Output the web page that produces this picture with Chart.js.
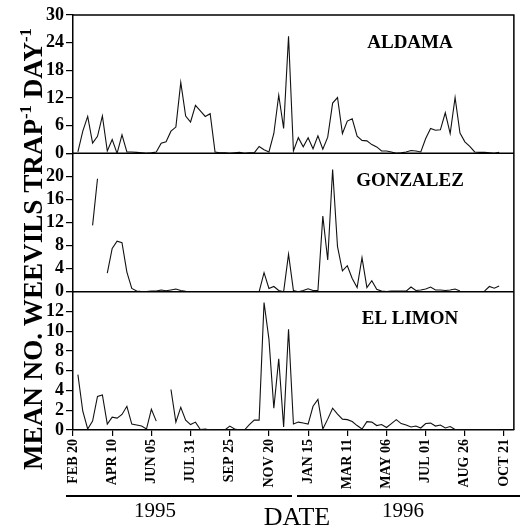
<!DOCTYPE html>
<html><head><meta charset="utf-8">
<script src="https://cdn.jsdelivr.net/npm/chart.js@4/dist/chart.umd.min.js"></script>
<style>html,body{margin:0;padding:0;background:#fff;overflow:hidden}</style>
</head><body>
<canvas id="c" width="524" height="527"></canvas>
<script>
// Week index of each x tick (8-week spacing) and its label
const xTickWeeks = [0, 8, 16, 24, 32, 40, 48, 56, 64, 72, 80, 88];
const xTickLabels = ['FEB 20','APR 10','JUN 05','JUL 31','SEP 25','NOV 20','JAN 15','MAR 11','MAY 06','JUL 01','AUG 26','OCT 21'];
const yearLabels = ['1995', '1996'];
const siteNames = ['ALDAMA', 'GONZALEZ', 'EL LIMON'];

// Weekly means, index = week number from FEB 20 1995 (null = no sample)
const aldama = [null,0.3,4.8,8.0,2.2,3.7,8.1,0.5,3.0,0,4.0,0.3,0.3,0.2,0.1,0,0.1,0.3,2.2,2.5,
  4.8,5.7,15.4,8.1,6.8,10.4,9.2,8.0,8.6,0.3,0.1,0.1,0,0.1,0.2,0,0.1,0.1,1.5,0.8,
  0.3,4.3,12.6,5.4,25.4,0.5,3.4,1.4,3.4,1.0,3.8,0.9,3.5,10.9,12.1,4.3,7.0,7.5,3.7,2.8,
  2.7,1.9,1.4,0.5,0.5,0.3,0,0.1,0.3,0.6,0.5,0.3,3.2,5.4,5.0,5.1,8.8,4.3,12.1,4.4,
  2.5,1.5,0.3,0.2,0.2,0.1,0,0.2];
const gonzalez = [null,null,null,null,11.5,19.6,null,3.2,7.5,8.75,8.5,3.4,0.55,0.1,0,0,0.1,0.1,0.3,0.15,
  0.3,0.45,0.2,0.05,0,0,0,0,0,0,0,0,0,0,0,0,0,0,0,3.3,
  0.55,0.9,0.2,0,6.5,0.2,0,0.2,0.5,0.2,0.2,13.1,5.5,21.2,7.8,3.6,4.5,2.3,0.7,5.9,
  0.7,1.9,0.4,0.1,0,0.1,0.1,0.1,0.1,0.8,0.2,0.3,0.45,0.8,0.3,0.3,0.2,0.3,0.45,0.1,
  null,null,null,null,0.1,0.9,0.6,1.0];
const limon = [null,5.6,1.9,0.1,0.9,3.4,3.55,0.6,1.3,1.2,1.57,2.4,0.6,0.5,0.4,0.1,2.1,0.9,null,null,
  4.1,0.8,2.3,1.0,0.55,0.8,0.05,0.1,0,0,0,0,0.4,0.1,0,0,0.55,1.0,1.0,12.9,
  9.2,2.2,7.2,0.3,10.2,0.6,0.8,0.7,0.6,2.4,3.1,0.1,1.1,2.2,1.6,1.1,1.05,0.85,0.45,0.1,
  0.85,0.8,0.45,0.55,0.25,0.65,1.05,0.65,0.5,0.3,0.4,0.2,0.65,0.7,0.4,0.5,0.2,0.35,0.05,0,
  0,0,0,0,0,0,0,0];

const SERIF = '"Liberation Serif", "Times New Roman", serif';
const toXY = arr => arr.map((v, i) => ({x: i, y: v}));

function yAxis(max, step, hideTop) {
  return {
    type: 'linear', position: 'left', stack: 'panels', stackWeight: 1,
    min: 0, max: max,
    afterFit: s => { s.width = 73; },
    border: {display: true, color: '#000', width: 1.5},
    grid: {display: true, drawOnChartArea: false, drawTicks: true, tickLength: 7, color: '#000', lineWidth: 1.2},
    ticks: {
      stepSize: step, autoSkip: false, padding: 2, color: '#000',
      font: {family: SERIF, size: 18, weight: 'bold'},
      callback: v => (hideTop && v === max) ? '' : String(v)
    }
  };
}

const decor = {
  id: 'decor',
  afterDraw(chart) {
    const ctx = chart.ctx, a = chart.chartArea;
    const sA = chart.scales.yA, sG = chart.scales.yG, sL = chart.scales.yL;
    ctx.save();
    ctx.strokeStyle = '#000'; ctx.lineWidth = 1.5;
    ctx.beginPath();
    ctx.moveTo(a.left, a.top); ctx.lineTo(a.right, a.top); ctx.lineTo(a.right, a.bottom);
    ctx.moveTo(a.left, sA.bottom); ctx.lineTo(a.right, sA.bottom);
    ctx.moveTo(a.left, sG.bottom); ctx.lineTo(a.right, sG.bottom);
    ctx.stroke();

    ctx.fillStyle = '#000';
    ctx.font = 'bold 19px ' + SERIF;
    ctx.textAlign = 'center'; ctx.textBaseline = 'middle';
    ctx.fillText(siteNames[0], 410, sA.top + 28);
    ctx.fillText(siteNames[1], 410, sG.top + 28);
    ctx.fillText(siteNames[2], 410, sL.top + 27);

    // year bars
    ctx.lineWidth = 2;
    ctx.beginPath();
    ctx.moveTo(66, 496); ctx.lineTo(292, 496);
    ctx.moveTo(297, 496); ctx.lineTo(520, 496);
    ctx.stroke();
    ctx.font = '21px ' + SERIF;
    ctx.fillText(yearLabels[0], 155, 511);
    ctx.fillText(yearLabels[1], 403, 511);
    ctx.font = '26px ' + SERIF;
    ctx.textBaseline = 'alphabetic';
    ctx.fillText('DATE', 297, 525);

    // y title with superscripts
    const parts = [['MEAN NO. WEEVILS TRAP', false], ['-1', true], [' DAY', false], ['-1', true]];
    let fs = 22;
    const measure = size => parts.reduce((w, p) => {
      ctx.font = 'bold ' + (p[1] ? size * 0.62 : size) + 'px ' + SERIF;
      return w + ctx.measureText(p[0]).width;
    }, 0);
    fs = fs * 442 / measure(fs);
    ctx.translate(42, 470);
    ctx.rotate(-Math.PI / 2);
    ctx.textAlign = 'left'; ctx.textBaseline = 'alphabetic';
    let x = 0;
    for (const [t, sup] of parts) {
      ctx.font = 'bold ' + (sup ? fs * 0.62 : fs) + 'px ' + SERIF;
      ctx.fillText(t, x, sup ? -fs * 0.42 : 0);
      x += ctx.measureText(t).width;
    }
    ctx.restore();
  }
};

const lineDs = (data, axis) => ({
  data: toXY(data), yAxisID: axis, borderColor: '#111', borderWidth: 1.1,
  pointRadius: 0, tension: 0, spanGaps: false, fill: false
});

new Chart(document.getElementById('c'), {
  type: 'line',
  data: {datasets: [lineDs(limon, 'yL'), lineDs(gonzalez, 'yG'), lineDs(aldama, 'yA')]},
  options: {
    responsive: false, devicePixelRatio: 1, animation: false,
    layout: {padding: {left: 0, right: 6, top: 15, bottom: 0}},
    plugins: {legend: {display: false}, tooltip: {enabled: false}},
    scales: {
      x: {
        type: 'linear', position: 'bottom', min: 0, max: 90,
        afterBuildTicks: s => { s.ticks = xTickWeeks.map(v => ({value: v})); },
        afterFit: s => { s.height = 97; },
        border: {display: true, color: '#000', width: 1.5},
        grid: {display: true, drawOnChartArea: false, tickLength: 6, color: '#000', lineWidth: 1.2},
        ticks: {
          autoSkip: false, minRotation: 90, maxRotation: 90, padding: 3, color: '#000',
          font: {family: SERIF, size: 14, weight: 'bold'},
          callback: v => { const i = xTickWeeks.indexOf(v); return i >= 0 ? xTickLabels[i] : ''; }
        }
      },
      yL: yAxis(14, 2, true),
      yG: yAxis(24, 4, true),
      yA: yAxis(30, 6, false)
    }
  },
  plugins: [decor]
});
</script>
</body></html>
